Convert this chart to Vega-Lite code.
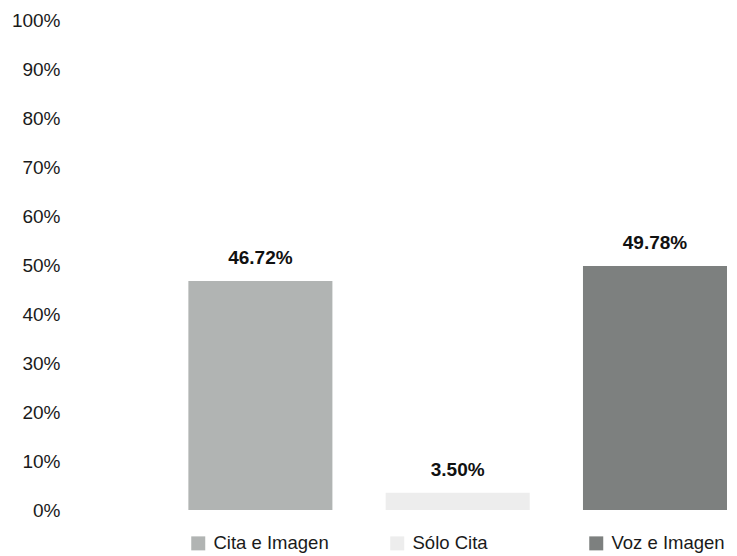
{
  "$schema": "https://vega.github.io/schema/vega-lite/v6.json",
  "autosize": "none",
  "width": 657,
  "height": 490,
  "padding": {"left": 70, "top": 20, "right": 10, "bottom": 46},
  "background": "white",
  "config": {"view": {"stroke": null}, "font": "Liberation Sans"},
  "data": {"values": [
    {"categoria": "Cita e Imagen", "valor": 0.4672},
    {"categoria": "Sólo Cita", "valor": 0.035},
    {"categoria": "Voz e Imagen", "valor": 0.4978}
  ]},
  "encoding": {
    "x": {"field": "categoria", "type": "nominal", "sort": null,
      "scale": {"paddingInner": 0.27, "paddingOuter": 0.3, "align": 1},
      "axis": null},
    "y": {"field": "valor", "type": "quantitative",
      "scale": {"domain": [0, 1], "nice": false},
      "axis": {"values": [0, 0.1, 0.2, 0.3, 0.4, 0.5, 0.6, 0.7, 0.8, 0.9, 1], "format": ".0%", "grid": false, "domain": false, "ticks": false,
        "labelPadding": 10, "labelFontSize": 19, "labelColor": "#1a1a1a", "labelFont": "Liberation Sans", "title": null}}
  },
  "layer": [
    {"mark": {"type": "bar"},
     "encoding": {"color": {"field": "categoria", "type": "nominal", "sort": null,
       "scale": {"domain": ["Cita e Imagen", "Sólo Cita", "Voz e Imagen"], "range": ["#b1b4b3", "#ededed", "#7d807f"]},
       "legend": {"title": null, "orient": "none", "direction": "horizontal", "columns": 3, "gridAlign": "all",
         "legendX": 119, "legendY": 514, "symbolType": "square", "symbolSize": 196, "symbolStrokeWidth": 0,
         "labelFontSize": 18.5, "labelFont": "Liberation Sans", "labelColor": "#1a1a1a", "labelOffset": 6, "columnPadding": 59, "labelLimit": 300}}}},
    {"mark": {"type": "text", "dy": -17, "baseline": "alphabetic", "fontWeight": "bold", "fontSize": 19, "font": "Liberation Sans", "color": "#111111"},
     "encoding": {"text": {"field": "valor", "type": "quantitative", "format": ".2%"}}}
  ]
}
